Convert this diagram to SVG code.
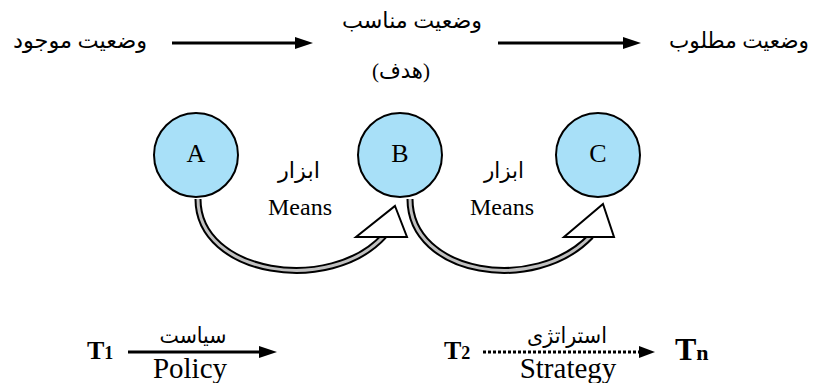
<svg xmlns="http://www.w3.org/2000/svg" width="820" height="383" viewBox="0 0 820 383">
<defs>
<style>
.fa{font-family:"Liberation Serif","DejaVu Sans",serif;font-size:22px;fill:#000}
.en{font-family:"Liberation Serif",serif;fill:#000}
.node{fill:#a8e0f8;stroke:#000;stroke-width:2}
.shaftO{fill:none;stroke:#000;stroke-width:7}
.shaftI{fill:none;stroke:#c0c0c0;stroke-width:3}
.head{fill:#fff;stroke:#000;stroke-width:2;stroke-linejoin:miter}
.line{stroke:#000;stroke-width:3;fill:none}
</style>
<marker id="tri" markerWidth="6" markerHeight="4" refX="0" refY="2" orient="auto" markerUnits="strokeWidth">
<path d="M0,0 L6,2 L0,4 Z" fill="#000"/>
</marker>
</defs>
<rect width="820" height="383" fill="#fff"/>

<g id="labels-top">
<text class="fa" x="80" y="48" text-anchor="middle" textLength="134" lengthAdjust="spacingAndGlyphs">وضعیت موجود</text>
<text class="fa" x="412" y="28" text-anchor="middle" textLength="140" lengthAdjust="spacingAndGlyphs">وضعیت مناسب</text>
<text class="fa" x="401" y="78" font-size="24" text-anchor="middle" textLength="58" lengthAdjust="spacingAndGlyphs">(هدف)</text>
<text class="fa" x="739" y="48" text-anchor="middle" textLength="140" lengthAdjust="spacingAndGlyphs">وضعیت مطلوب</text>
</g>

<g id="connectors">
<line class="line" x1="172" y1="43" x2="295" y2="43" marker-end="url(#tri)"/>
<line class="line" x1="498" y1="43" x2="623" y2="43" marker-end="url(#tri)"/>
<path class="shaftO" d="M198 199 C198 275 330 295 384 236"/>
<path class="shaftI" d="M198 199 C198 275 330 295 384 236"/>
<polygon class="head" points="395,206 407,237 356,237"/>
<path class="shaftO" d="M410 199 C410 275 535 295 591 236"/>
<path class="shaftI" d="M410 199 C410 275 535 295 591 236"/>
<polygon class="head" points="603,204 614,237 564,237"/>
<line class="line" x1="128" y1="352" x2="259" y2="352" marker-end="url(#tri)"/>
<line x1="483" y1="352" x2="640" y2="352" stroke="#000" stroke-width="3" stroke-dasharray="3,2"/>
<path d="M639,346 L655,352 L639,358 Z" fill="#000"/>
</g>

<g id="node-A">
<circle class="node" cx="196" cy="155" r="42"/>
<text class="en" x="196" y="162" font-size="26" text-anchor="middle">A</text>
</g>
<g id="node-B">
<circle class="node" cx="400" cy="155" r="42"/>
<text class="en" x="400" y="162" font-size="26" text-anchor="middle">B</text>
</g>
<g id="node-C">
<circle class="node" cx="598" cy="155" r="42"/>
<text class="en" x="598" y="162" font-size="26" text-anchor="middle">C</text>
</g>

<g id="means-labels">
<text class="fa" x="299" y="178" text-anchor="middle" textLength="42" lengthAdjust="spacingAndGlyphs">ابزار</text>
<text class="en" x="300" y="215" font-size="24" text-anchor="middle">Means</text>
<text class="fa" x="504" y="178" text-anchor="middle" textLength="40" lengthAdjust="spacingAndGlyphs">ابزار</text>
<text class="en" x="502" y="215" font-size="24" text-anchor="middle">Means</text>
</g>

<g id="bottom">
<text class="en" x="87" y="359" font-size="26" font-weight="bold">T<tspan font-size="18">1</tspan></text>
<text class="fa" x="193" y="343" text-anchor="middle" textLength="67" lengthAdjust="spacingAndGlyphs">سیاست</text>
<text class="en" x="190" y="378" font-size="29" text-anchor="middle">Policy</text>
<text class="en" x="444" y="359" font-size="26" font-weight="bold">T<tspan font-size="18">2</tspan></text>
<text class="fa" x="567" y="343" text-anchor="middle" textLength="80" lengthAdjust="spacingAndGlyphs">استراتژی</text>
<text class="en" x="568" y="378" font-size="29" text-anchor="middle">Strategy</text>
<text class="en" x="675" y="360" font-size="32" font-weight="bold">T<tspan font-size="22">n</tspan></text>
</g>
</svg>
